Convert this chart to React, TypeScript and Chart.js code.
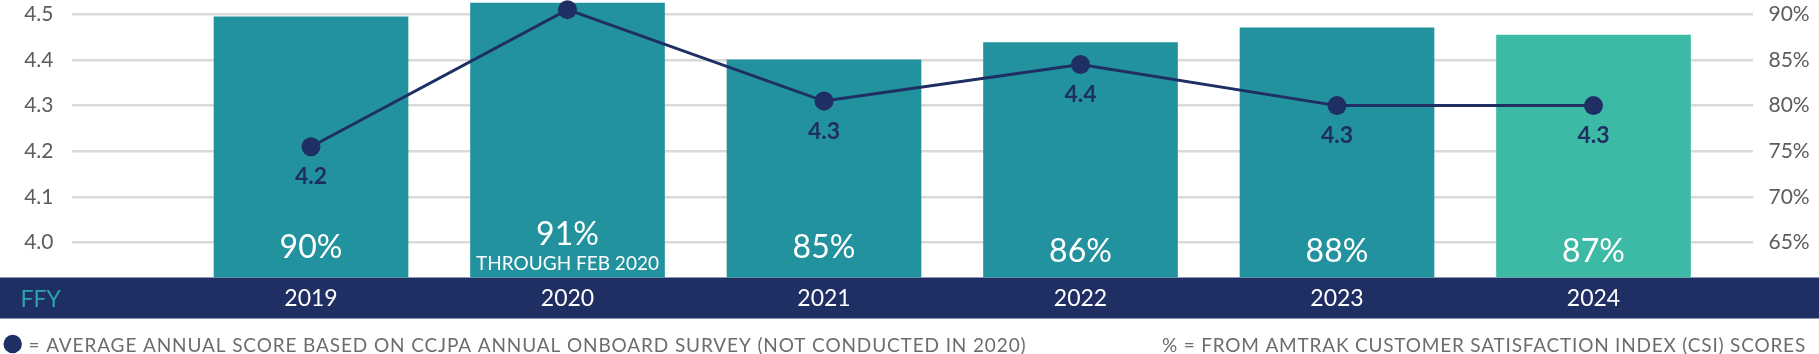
import { useEffect, useRef } from 'react';
import { Chart, registerables } from 'chart.js';

Chart.register(...registerables);

// ---- data ----
const fiscalYears = ['2019', '2020', '2021', '2022', '2023', '2024'];
const csiBarHeights = [89.7, 91.2, 85.0, 86.9, 88.5, 87.7];
const csiLabels = ['90%', '91%', '85%', '86%', '88%', '87%'];
const csiNotes = ['', 'THROUGH FEB 2020', '', '', '', ''];
const surveyScores = [4.21, 4.51, 4.31, 4.39, 4.3, 4.3];
const surveyLabels = ['4.2', '', '4.3', '4.4', '4.3', '4.3'];
const scoreTicks = [4.0, 4.1, 4.2, 4.3, 4.4, 4.5];
const csiTicks = [65, 70, 75, 80, 85, 90];
const axisTitle = 'FFY';
const legendScore = '= AVERAGE ANNUAL SCORE BASED ON CCJPA ANNUAL ONBOARD SURVEY (NOT CONDUCTED IN 2020)';
const legendCsi = '% = FROM AMTRAK CUSTOMER SATISFACTION INDEX (CSI) SCORES';

// ---- layout / style ----
const W = 1819;
const H = 354;
const PLOT_LEFT = 72;
const PLOT_RIGHT = 1753;
const PLOT_BOTTOM = 277.5;
const BAND_BOTTOM = 318.5;
const NAVY = '#1f2e63';
const TEAL = '#22929e';
const TEAL_LIGHT = '#3dbaa6';
const FFY_TEAL = '#2aa5b0';
const GRID = '#d9d9d9';
const AXIS_GRAY = '#5b5c5e';
const LEGEND_GRAY = '#6b6c6e';
const FONT = 'Lato, "Open Sans", sans-serif';
const barColors = fiscalYears.map((_, i) => (i === fiscalYears.length - 1 ? TEAL_LIGHT : TEAL));

function fitText(ctx: CanvasRenderingContext2D, text: string, x: number, y: number, targetW: number) {
  const c = ctx as any;
  c.letterSpacing = '0px';
  const w = ctx.measureText(text).width;
  if ('letterSpacing' in c && text.length > 1) {
    c.letterSpacing = (targetW - w) / text.length + 'px';
  }
  ctx.fillText(text, x, y);
  c.letterSpacing = '0px';
}

const decorPlugin = {
  id: 'decor',
  beforeDraw(chart: any) {
    const { ctx, chartArea } = chart;
    ctx.save();
    // navy category band
    ctx.fillStyle = NAVY;
    ctx.fillRect(0, chartArea.bottom, W, BAND_BOTTOM - chartArea.bottom);
    ctx.fillStyle = FFY_TEAL;
    ctx.font = `400 23px ${FONT}`;
    ctx.textAlign = 'left';
    ctx.textBaseline = 'alphabetic';
    ctx.fillText(axisTitle, 20.5, 306.8);

    // footnote legend
    ctx.fillStyle = NAVY;
    ctx.beginPath();
    ctx.arc(12.7, 344, 9.2, 0, Math.PI * 2);
    ctx.fill();
    ctx.fillStyle = LEGEND_GRAY;
    ctx.font = `400 19px ${FONT}`;
    fitText(ctx, legendScore, 28.5, 351.5, 998);
    fitText(ctx, legendCsi, 1162, 351.5, 644);
    ctx.restore();
  },
  afterDatasetsDraw(chart: any) {
    const { ctx, chartArea } = chart;
    const barMeta = chart.getDatasetMeta(1);
    const lineMeta = chart.getDatasetMeta(0);
    ctx.save();
    ctx.textAlign = 'center';
    ctx.textBaseline = 'alphabetic';
    barMeta.data.forEach((el: any, i: number) => {
      ctx.fillStyle = '#ffffff';
      ctx.font = `400 32px ${FONT}`;
      if (csiNotes[i]) {
        ctx.fillText(csiLabels[i], el.x, chartArea.bottom - 32.5);
        ctx.font = `400 19px ${FONT}`;
        ctx.fillText(csiNotes[i], el.x, chartArea.bottom - 7.5);
      } else {
        const rise = i >= 3 ? 15.2 : 19.2;
        ctx.fillText(csiLabels[i], el.x, chartArea.bottom - rise);
      }
    });
    lineMeta.data.forEach((el: any, i: number) => {
      if (!surveyLabels[i]) return;
      ctx.fillStyle = NAVY;
      ctx.font = `700 23px ${FONT}`;
      ctx.fillText(surveyLabels[i], el.x, el.y + 37.5);
    });
    ctx.restore();
  },
};

export default function App() {
  const ref = useRef<HTMLCanvasElement>(null);
  useEffect(() => {
    const chart = new Chart(ref.current as HTMLCanvasElement, {
      type: 'bar',
      data: {
        datasets: [
          {
            type: 'line',
            label: 'Survey score',
            data: surveyScores.map((v, i) => ({ x: i, y: v })),
            yAxisID: 'y',
            borderColor: NAVY,
            borderWidth: 3,
            pointRadius: 9.5,
            pointBackgroundColor: NAVY,
            pointBorderWidth: 0,
            tension: 0,
            clip: false,
            order: 0,
          } as any,
          {
            type: 'bar',
            label: 'CSI',
            data: csiBarHeights.map((v, i) => ({ x: i, y: v })),
            yAxisID: 'y1',
            backgroundColor: barColors,
            barThickness: 194,
            borderWidth: 0,
            order: 1,
          } as any,
        ],
      },
      options: {
        animation: false,
        responsive: false,
        devicePixelRatio: 1,
        layout: { padding: 0, autoPadding: false } as any,
        plugins: { legend: { display: false }, tooltip: { enabled: false } },
        scales: {
          x: {
            type: 'linear',
            position: 'bottom',
            offset: false,
            min: -0.9318,
            max: 5.6218,
            grid: { display: false, drawTicks: false, offset: false },
            border: { display: false },
            afterBuildTicks: (s: any) => {
              s.ticks = fiscalYears.map((_, i) => ({ value: i }));
            },
            ticks: {
              autoSkip: false,
              maxRotation: 0,
              padding: 9.5,
              color: '#ffffff',
              font: { family: FONT, size: 23, weight: '400', lineHeight: 1 },
              callback: (v: any) => fiscalYears[v] ?? '',
            },
            afterFit: (s: any) => {
              s.height = H - PLOT_BOTTOM;
              s.paddingLeft = 0;
              s.paddingRight = 0;
            },
          },
          y: {
            type: 'linear',
            position: 'left',
            min: 3.9239,
            max: 4.5311,
            grid: { color: GRID, lineWidth: 2.5, drawTicks: false },
            border: { display: false },
            afterBuildTicks: (s: any) => {
              s.ticks = scoreTicks.map((v) => ({ value: v }));
            },
            ticks: {
              padding: 18.5,
              color: AXIS_GRAY,
              font: { family: FONT, size: 21, weight: '400' },
              callback: (v: any) => Number(v).toFixed(1),
            },
            afterFit: (s: any) => {
              s.width = PLOT_LEFT;
              s.paddingTop = 0;
              s.paddingBottom = 0;
            },
          },
          y1: {
            type: 'linear',
            position: 'right',
            min: 61.19,
            max: 91.55,
            grid: { display: false, drawTicks: false },
            border: { display: false },
            afterBuildTicks: (s: any) => {
              s.ticks = csiTicks.map((v) => ({ value: v }));
            },
            ticks: {
              padding: 15.5,
              color: AXIS_GRAY,
              font: { family: FONT, size: 21, weight: '400' },
              callback: (v: any) => v + '%',
            },
            afterFit: (s: any) => {
              s.width = W - PLOT_RIGHT;
              s.paddingTop = 0;
              s.paddingBottom = 0;
            },
          },
        },
      } as any,
      plugins: [decorPlugin],
    });
    return () => chart.destroy();
  }, []);
  return (
    <div style={{ position: 'fixed', left: 0, top: 0, width: W, height: H, background: '#ffffff' }}>
      <canvas ref={ref} width={W} height={H} style={{ display: 'block', width: W, height: H }} />
    </div>
  );
}
